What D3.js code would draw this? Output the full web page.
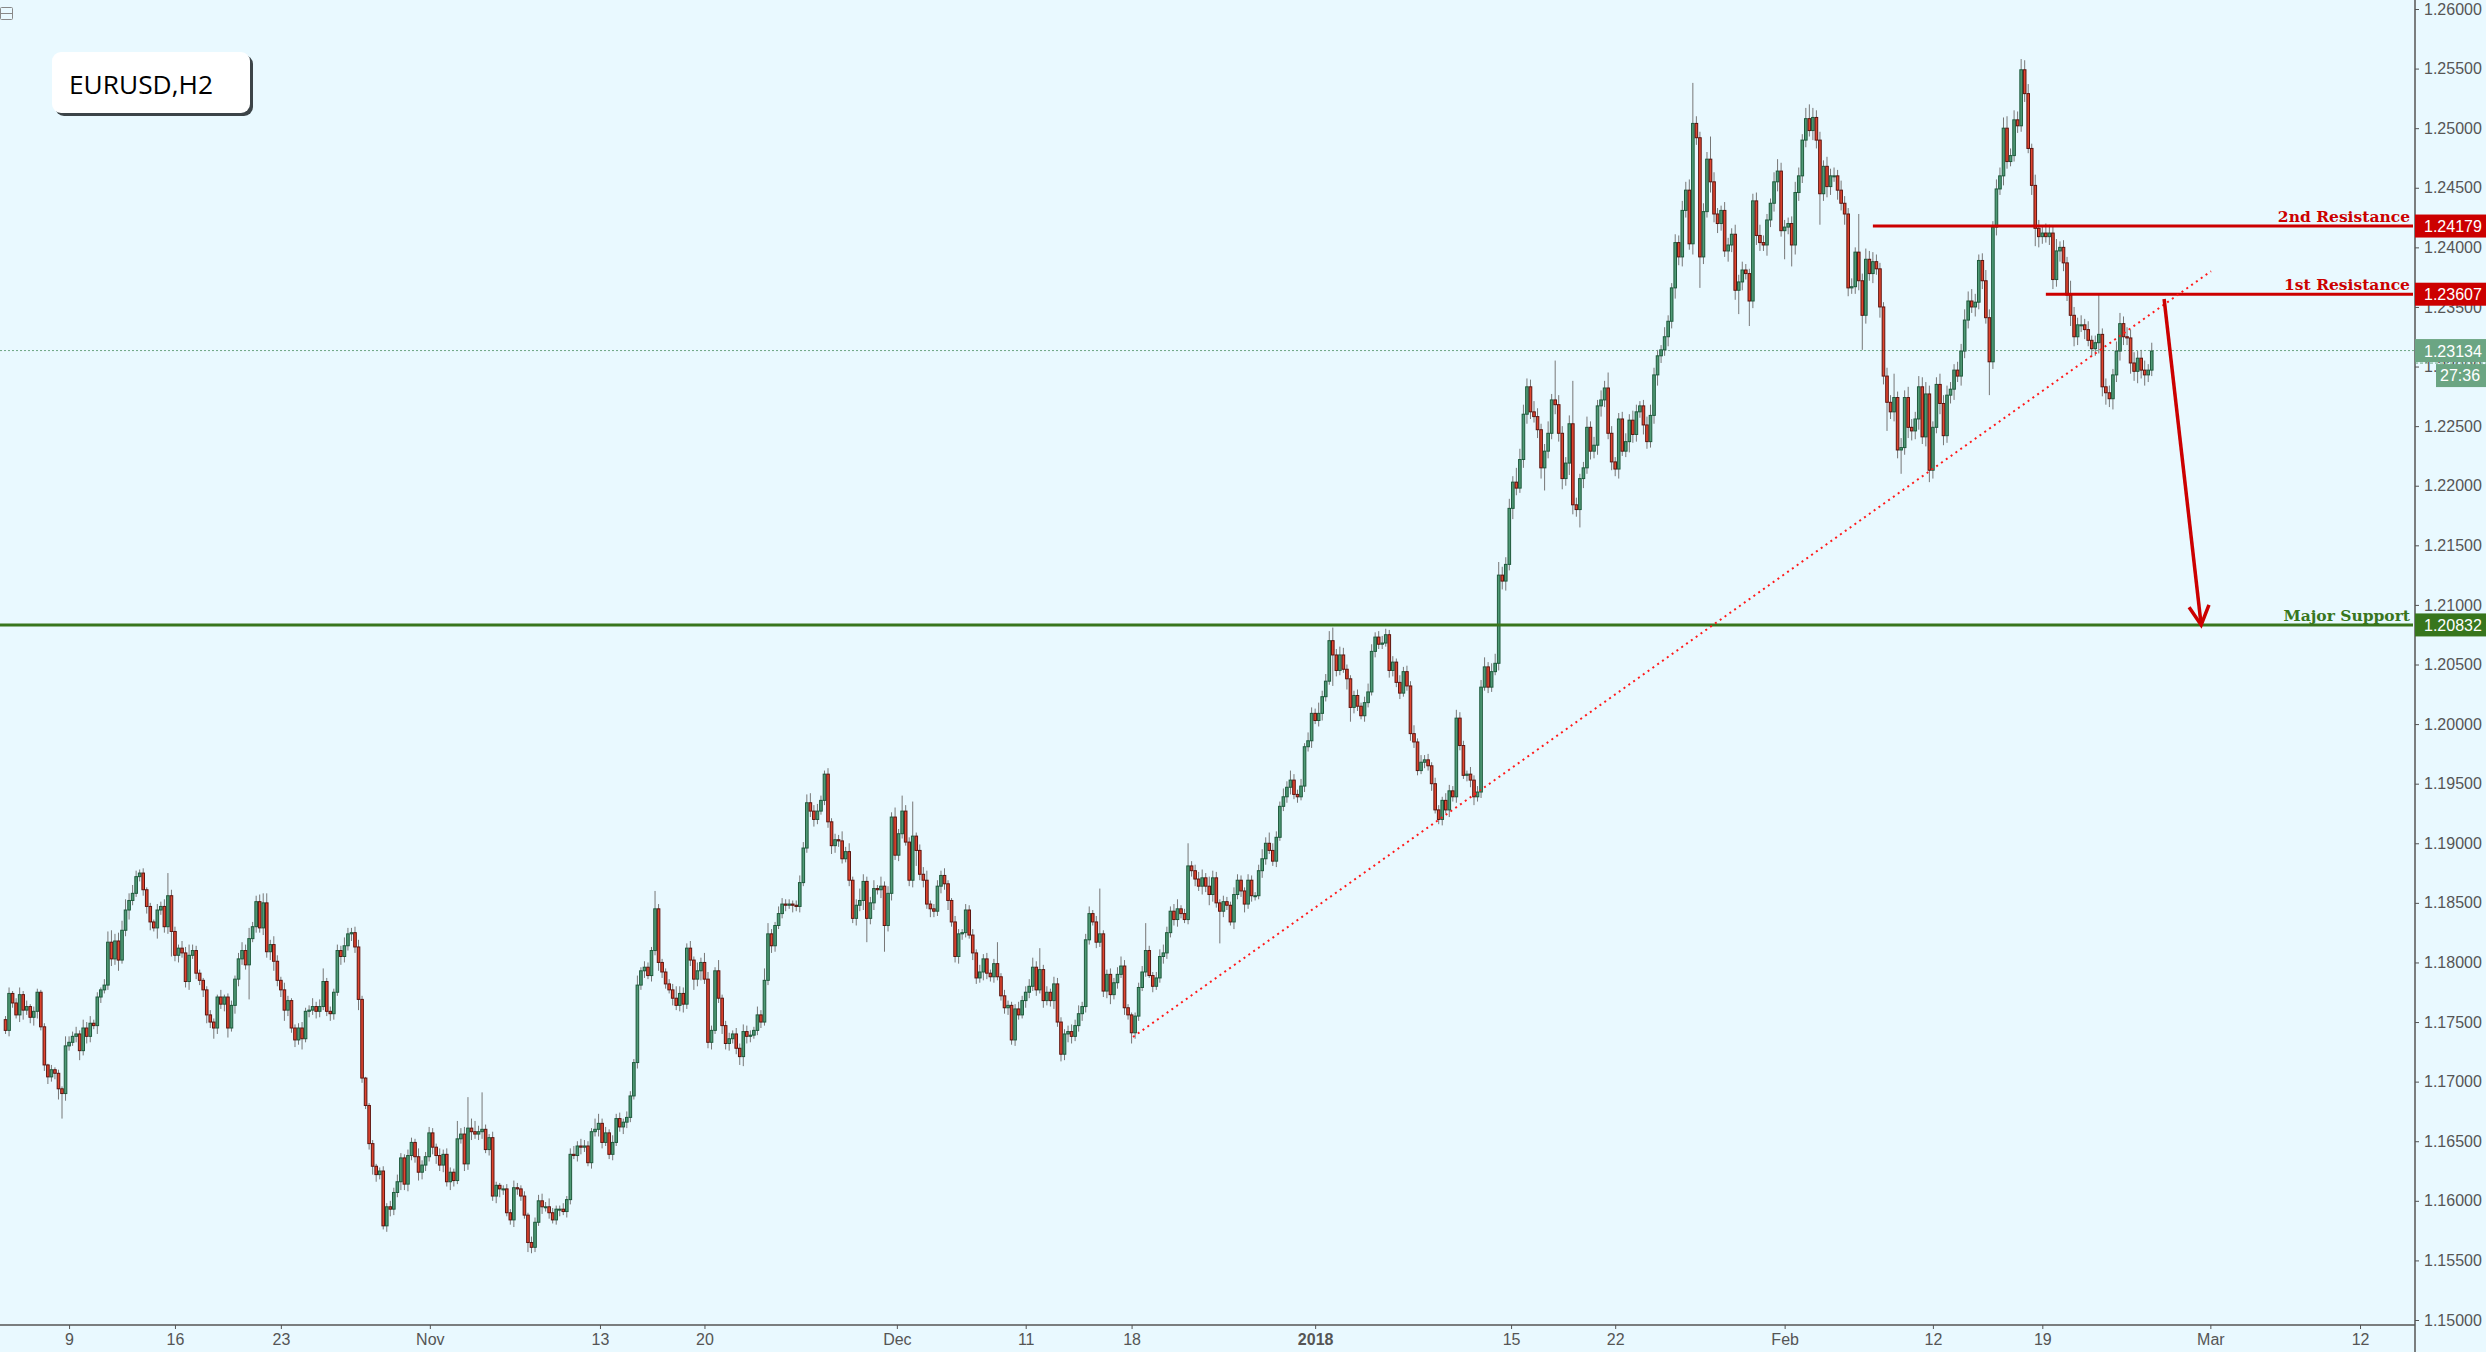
<!DOCTYPE html>
<html>
<head>
<meta charset="utf-8">
<title>EURUSD,H2</title>
<script src="https://cdnjs.cloudflare.com/ajax/libs/d3/7.8.5/d3.min.js"></script>
<style>
    html, body { margin: 0; padding: 0; background: #e9f9ff; overflow: hidden; }
    svg { display: block; }
    .axis text { font-family: "Liberation Sans", Arial, sans-serif; font-size: 16px; fill: #555; }
    .axis line, .axis path { stroke: #555; }
    .tag { font-family: "Liberation Sans", Arial, sans-serif; font-size: 16px; fill: #fff; }
    .level { font-family: "DejaVu Serif", serif; font-size: 15.5px; font-weight: bold; text-anchor: end; }
</style>
</head>
<body>
<script>
// closes of the 4 hour candles, in pips (1/10000)
var firstOpen = 11752
var closes = [
    11743,11774,11766,11756,11773,11760,11763,11754,11759,11775,11746,11714,11704,11710,11707,11694,11690,11730,11733,11738,11740,11726,11745,11738,11749,11747,11771,11777,11781,11817,
    11803,11818,11802,11827,11844,11852,11858,11872,11875,11861,11847,11834,11829,11844,11847,11830,11856,11826,11806,11812,11808,11784,11806,11810,11791,11785,11777,11756,11750,11745,
    11771,11765,11771,11745,11764,11786,11803,11810,11798,11820,11830,11851,11829,11850,11809,11815,11801,11785,11777,11760,11768,11745,11735,11745,11736,11759,11760,11763,11759,11763,
    11784,11759,11757,11775,11810,11805,11814,11824,11825,11813,11769,11703,11680,
    11648,11629,11622,11625,11579,11595,11593,11607,11616,11636,11614,11638,11649,11637,11624,11630,11637,11657,11645,11638,11630,11639,11616,11624,11617,11652,11656,11631,11661,11658,
    11656,11658,11660,11643,11653,11604,11613,11610,11610,11590,11584,11611,11610,11604,11588,11565,11561,11582,11600,11595,11595,11590,11584,11593,11593,11591,11601,11639,11638,11646,
    11645,11646,11632,11658,11660,11665,11649,11657,11639,11649,11669,11662,11666,11670,11688,11716,11781,11793,11796,11789,11810,11845,11800,11792,11782,11777,11770,11764,11774,11765,
    11812,11802,11786,11793,11800,11786,11733,11743,11793,11770,11747,11732,11736,
    11740,11728,11721,11742,11738,11739,11743,11756,11750,11785,11824,11814,11831,11841,11849,11848,11849,11848,11847,11867,11896,11934,11927,11920,11927,11936,11958,11918,11898,11903,
    11902,11887,11893,11869,11837,11848,11852,11868,11837,11850,11862,11861,11864,11831,11858,11922,11890,11908,11927,11901,11869,11906,11894,11874,11869,11849,11845,11843,11864,11873,
    11866,11852,11834,11805,11824,11825,11844,11823,11808,11787,11792,11803,11791,11788,11799,11788,11772,11762,11764,11735,11761,11756,11768,11775,11780,11796,11777,11794,11768,11775,
    11768,11782,11750,11723,11740,11742,11738,11747,11757,11763,11819,11841,11834,11817,11824,
    11776,11790,11773,11783,11790,11797,11762,11756,11741,11755,11779,11792,11810,11789,11780,11787,11805,11808,11825,11843,11836,11845,11841,11836,11881,11877,11870,11864,11871,11864,
    11857,11871,11850,11843,11851,11848,11834,11857,11869,11860,11849,11869,11856,11856,11877,11887,11900,11894,11885,11905,11931,11939,11947,11953,11941,11939,11948,11981,11986,12009,
    12003,12009,12023,12036,12070,12058,12045,12058,12046,12038,12014,12024,12015,12007,12018,12027,12061,12073,12067,
    12068,12075,12045,12052,12035,12026,12044,12032,11992,11985,11961,11968,11970,11965,11950,11928,11920,11936,11928,11944,11939,12005,11982,11957,11958,11953,11939,11943,12031,12048,
    12031,12044,12051,
    12125,12120,12134,12181,12203,12198,12222,12260,12283,12262,12258,12247,12215,12229,12244,12272,12268,12244,12206,12219,12252,12184,12180,12206,12215,12249,12229,12234,12267,12272,
    12282,12244,12220,12214,12256,12229,12237,12255,12243,12262,12267,12251,12237,12259,12293,12309,12314,12325,12338,12366,
    12404,12392,12431,12448,12403,12504,12492,12392,12430,12474,12455,12428,12420,12431,12397,12402,12411,12364,12371,12381,12378,12355,12439,12410,12404,12402,12423,12437,12455,12464,
    12414,12417,12420,12402,12446,12460,12490,12508,12498,12509,12490,12445,12468,12451,12460,12460,12448,12437,12428,12366,12367,12396,12372,12343,12390,12378,12388,12382,12350,12292,
    12270,12262,12274,12230,12232,12274,12249,12246,12256,12283,12241,12277,12213,12249,12285,12269,12242,12276,12281,12297,12292,12313,12339,12355,12350,12354,12389,12372,12341,12304,
    12417,12449,12460,12500,12472,12477,12507,12502,12549,12529,12483,12452,12416,12409,
    12412,12409,12412,12373,12397,12400,12387,12360,12343,12325,12335,12335,12331,12322,12315,12320,12327,12283,12278,12273,12293,12313,12336,12325,12324,12303,12296,12307,12297,12293,
    12297,12313
]
// wick length above the body, pips
var upWicks = [
    3,5,2,4,6,3,5,2,4,3,2,3,1,4,2,3,2,8,5,4,6,3,7,5,6,3,4,2,5,9,
    10,6,7,8,9,6,7,5,3,4,2,3,2,5,4,6,19,5,4,3,6,5,9,5,4,3,2,3,4,3,
    2,6,2,3,4,3,5,7,5,9,4,5,6,8,8,4,7,5,3,6,4,2,3,4,5,3,4,7,4,6,
    11,3,4,3,5,4,7,5,4,5,6,3,1,2,3,2,3,4,3,5,4,6,4,3,5,4,3,7,4,4,
    5,4,3,6,4,5,4,3,15,5,6,26,8,9,5,31,4,3,5,3,2,3,4,3,6,4,3,4,2,5,
    4,5,6,4,7,4,3,3,5,3,5,7,4,6,5,4,3,9,8,4,5,3,6,4,5,3,5,4,3,8,
    3,5,4,3,15,4,3,3,4,5,10,6,5,4,6,3,7,4,8,6,4,3,9,3,4,5,3,5,4,6,
    5,4,3,7,4,10,9,4,3,6,5,4,4,3,4,6,5,7,8,5,6,4,3,5,3,5,4,8,4,7,
    3,5,10,6,4,5,7,3,8,4,6,4,8,4,13,5,4,29,3,5,6,8,3,4,5,4,6,3,2,5,
    4,3,5,4,5,3,6,4,5,3,4,18,3,5,4,3,4,6,4,5,6,8,5,18,4,5,3,6,5,4,
    4,5,6,5,7,4,5,6,3,5,38,3,4,5,4,6,8,5,3,2,3,4,5,23,4,3,5,6,7,5,
    4,6,8,3,4,19,4,5,6,7,4,8,6,5,3,5,4,3,6,5,4,3,5,4,3,5,8,5,9,6,
    5,4,7,5,8,5,4,6,3,7,5,4,9,5,6,8,11,5,7,6,4,3,4,5,3,5,7,6,4,5,
    6,5,4,5,3,6,4,5,4,7,3,6,4,5,3,5,4,3,6,5,4,7,5,4,3,6,4,5,6,8,
    4,7,8,11,7,6,8,5,12,9,8,7,6,9,7,5,6,10,5,33,8,6,5,7,36,6,4,5,9,5,
    7,5,8,6,13,6,4,5,6,7,5,8,6,4,5,7,9,6,5,4,8,5,4,7,6,8,7,9,34,6,
    5,7,6,19,8,5,4,7,6,5,8,6,7,5,4,6,7,9,6,5,4,8,10,7,6,5,6,9,7,5,
    9,12,8,6,7,5,8,6,7,5,8,6,5,7,4,32,6,9,7,8,6,5,4,7,6,20,5,8,6,9,
    7,6,9,8,10,7,5,6,9,7,8,6,5,7,6,9,8,10,7,5,6,9,7,5,8,7,9,10,6,8,
    7,9,8,8,4,9,7,6,8,7,6,10,5,6,5,12,7,6,8,5,7,4,6,34,5,7,6,5,8,9,
    6,8,7,9,6,7,8,5,7
]
// wick length below the body, pips
var downWicks = [
    3,5,4,3,6,8,4,5,7,6,3,5,6,4,5,9,21,6,4,3,5,8,4,6,5,3,7,5,3,4,
    6,5,9,3,5,8,4,3,4,5,6,7,3,9,4,5,6,21,5,6,4,5,7,3,5,4,6,7,5,9,
    5,4,6,8,3,7,6,5,4,29,3,5,4,6,5,7,8,5,6,9,5,4,6,4,9,3,5,4,6,5,
    3,4,6,5,3,7,5,4,6,5,9,4,3,5,7,6,4,3,5,6,5,4,7,5,6,4,5,7,6,5,
    4,6,7,5,6,4,7,5,3,4,6,5,7,4,5,6,3,5,4,6,7,5,3,4,6,5,4,3,8,5,
    4,3,6,4,5,3,4,6,3,5,4,3,5,6,4,3,5,4,6,5,3,4,5,3,4,6,5,4,3,5,
    4,6,3,5,4,7,5,4,3,6,4,5,7,4,5,9,6,8,4,5,6,3,4,7,5,6,4,5,7,8,
    6,5,3,4,5,3,4,6,5,3,4,5,3,6,4,5,3,4,5,6,4,3,4,5,7,6,5,4,3,5,
    4,6,5,8,20,5,6,4,7,22,5,6,4,5,4,3,5,6,13,5,6,4,7,5,4,6,5,8,4,5,
    6,5,4,3,6,5,4,7,5,4,5,3,4,5,6,4,5,4,3,6,5,4,5,3,6,4,5,7,4,6,
    5,7,6,4,5,6,5,4,3,5,4,5,6,8,4,5,3,6,4,9,5,4,3,4,2,5,3,4,6,5,
    4,5,6,4,3,4,5,6,4,7,5,9,6,4,27,5,4,3,6,4,5,7,4,5,4,3,6,5,3,4,
    5,3,4,5,6,4,5,3,5,4,6,3,5,6,4,3,26,5,4,3,9,12,5,4,3,5,4,3,5,4,
    4,3,6,5,4,5,3,4,6,5,4,3,5,4,6,3,4,5,3,6,4,5,4,3,5,6,7,4,5,3,
    5,4,3,6,7,8,5,9,6,4,7,8,6,5,7,9,19,6,5,8,7,9,6,10,8,6,15,8,5,7,
    6,8,9,6,5,7,6,8,4,5,9,7,6,5,8,6,5,7,9,6,5,8,6,9,7,8,6,5,9,6,
    26,6,5,9,7,8,6,5,9,6,8,20,7,5,21,6,8,7,5,9,6,7,8,5,24,6,18,8,7,6,
    6,5,8,7,26,6,9,7,5,8,6,9,7,5,6,8,29,7,6,8,5,9,7,24,6,8,7,20,6,9,
    8,7,9,6,8,10,7,5,9,8,6,7,9,5,8,6,7,5,8,6,7,5,28,6,7,5,8,6,4,5,
    6,5,7,4,8,15,9,6,5,7,8,6,9,7,5,9,8,7,6,8,5,7,6,9,8,10,7,9,6,8,
    7,6,9,8,10,7,9,6,5
]

// axis labels
var priceTicks = [1.15, 1.155, 1.16, 1.165, 1.17, 1.175, 1.18, 1.185, 1.19, 1.195, 1.2, 1.205, 1.21, 1.215, 1.22, 1.225, 1.23, 1.235, 1.24, 1.245, 1.25, 1.255, 1.26]
var timeLabels = ["9", "16", "23", "Nov", "13", "20", "Dec", "11", "18", "2018", "15", "22", "Feb", "12", "19", "Mar", "12"]
var timeBars = [19, 49, 79, 121.2, 169.4, 199, 253.5, 290, 320, 372, 427.5, 457, 505, 547, 578, 625.6, 668]

// drawn levels, trend line and arrow, as [bar, price]
var levelNames = ["2nd Resistance", "1st Resistance", "Major Support"]
var levelPrices = [1.24179, 1.23607, 1.20832]
var levelStarts = [530, 579, -1]
var levelColors = ["#cc0000", "#cc0000", "#38761d"]
var lastPrice = 1.23134
var countdown = "27:36"
var trendLine = [[320.4, 1.17375], [625.8, 1.23800]]
var arrowLine = [[612.5, 1.23567], [623, 1.20832]]

function main() {
    var width = 2486,
        height = 1352;

    var svg = d3.select("body")
        .append("svg")
        .attr("width", width)
        .attr("height", height);

    svg.append("rect")
        .attr("width", width)
        .attr("height", height)
        .attr("fill", "#e9f9ff");

    var x = d3.scaleLinear().domain([0, 684]).range([2, 2416.5]);
    var y = d3.scaleLinear().domain([1.26, 1.15]).range([9, 1320]);

    drawAxes(svg, x, y, height);
    drawLastLine(svg, y);
    drawCandles(svg, x, y);
    drawLevels(svg, x, y);
    drawTrend(svg, x, y);
    drawArrow(svg, x, y);
    drawTags(svg, y);
    drawTitle(svg);
};

function drawAxes(svg, x, y, height) {
    var yAxis = d3.axisRight(y)
        .tickValues(priceTicks)
        .tickFormat(d3.format(".5f"))
        .tickSize(4)
        .tickSizeOuter(0)
        .tickPadding(5);

    var yGroup = svg.append("g")
        .attr("class", "axis")
        .attr("transform", "translate(2415,0)")
        .call(yAxis);
    yGroup.select(".domain").remove();

    var xAxis = d3.axisBottom(x)
        .tickValues(timeBars)
        .tickFormat(function (d, i) { return timeLabels[i]; })
        .tickSize(4)
        .tickSizeOuter(0)
        .tickPadding(5);

    var xGroup = svg.append("g")
        .attr("class", "axis")
        .attr("transform", "translate(0,1325)")
        .call(xAxis);
    xGroup.select(".domain").remove();
    xGroup.selectAll("text")
        .style("font-weight", function (d, i) { return timeLabels[i] == "2018" ? "bold" : "normal"; });

    // frame lines
    svg.append("line").attr("x1", 2415).attr("x2", 2415).attr("y1", 0).attr("y2", height)
        .attr("stroke", "#555").attr("stroke-width", 1.5);
    svg.append("line").attr("x1", 0).attr("x2", 2415).attr("y1", 1325).attr("y2", 1325)
        .attr("stroke", "#555").attr("stroke-width", 1.5);

    // collapse button top left
    svg.append("rect").attr("x", 0.5).attr("y", 7.5).attr("width", 12).attr("height", 12).attr("rx", 1)
        .attr("fill", "none").attr("stroke", "#888");
    svg.append("line").attr("x1", 1).attr("x2", 12).attr("y1", 13.5).attr("y2", 13.5).attr("stroke", "#888");
};

function drawLastLine(svg, y) {
    svg.append("line")
        .attr("x1", 0).attr("x2", 2415)
        .attr("y1", y(lastPrice)).attr("y2", y(lastPrice))
        .attr("stroke", "#6ba583")
        .attr("stroke-dasharray", "2 2");
};

function drawCandles(svg, x, y) {
    var bars = closes.map(function (c, i) {
        var open = i == 0 ? firstOpen : closes[i - 1];
        return {
            bar: i + 1,
            open: open / 10000,
            close: c / 10000,
            high: (Math.max(open, c) + (upWicks[i] || 0)) / 10000,
            low: (Math.min(open, c) - (downWicks[i] || 0)) / 10000
        };
    });

    var bodyWidth = 2.6;

    svg.append("g").selectAll("line")
        .data(bars)
        .join("line")
        .attr("x1", function (d) { return x(d.bar); })
        .attr("x2", function (d) { return x(d.bar); })
        .attr("y1", function (d) { return y(d.high); })
        .attr("y2", function (d) { return y(d.low); })
        .attr("stroke", "#777")
        .attr("stroke-width", 1);

    svg.append("g").selectAll("rect")
        .data(bars)
        .join("rect")
        .attr("x", function (d) { return x(d.bar) - bodyWidth / 2; })
        .attr("width", bodyWidth)
        .attr("y", function (d) { return y(Math.max(d.open, d.close)); })
        .attr("height", function (d) { return Math.max(1, Math.abs(y(d.open) - y(d.close))); })
        .attr("fill", function (d) { return d.close >= d.open ? "#4f9a76" : "#e0452f"; })
        .attr("stroke", function (d) { return d.close >= d.open ? "#1e5a3c" : "#5d1510"; })
        .attr("stroke-width", 1);
};

function drawLevels(svg, x, y) {
    levelPrices.forEach(function (price, i) {
        svg.append("line")
            .attr("x1", x(levelStarts[i])).attr("x2", 2413)
            .attr("y1", y(price)).attr("y2", y(price))
            .attr("stroke", levelColors[i])
            .attr("stroke-width", 3);
        svg.append("text")
            .attr("class", "level")
            .attr("x", 2410)
            .attr("y", y(price) - 4)
            .attr("fill", levelColors[i])
            .text(levelNames[i]);
    });
};

function drawTrend(svg, x, y) {
    var line = d3.line()
        .x(function (d) { return x(d[0]); })
        .y(function (d) { return y(d[1]); });

    svg.append("path")
        .attr("d", line(trendLine))
        .attr("fill", "none")
        .attr("stroke", "#ff1a1a")
        .attr("stroke-width", 2)
        .attr("stroke-dasharray", "2 3.9");
};

function drawArrow(svg, x, y) {
    var line = d3.line()
        .x(function (d) { return x(d[0]); })
        .y(function (d) { return y(d[1]); });

    svg.append("path")
        .attr("d", line(arrowLine))
        .attr("fill", "none")
        .attr("stroke", "#cc0000")
        .attr("stroke-width", 3.5);

    // arrow head, turned along the shaft
    var x0 = x(arrowLine[0][0]), y0 = y(arrowLine[0][1]);
    var x1 = x(arrowLine[1][0]), y1 = y(arrowLine[1][1]);
    var angle = Math.atan2(y1 - y0, x1 - x0) * 180 / Math.PI;
    svg.append("path")
        .attr("d", "M-19,-10L0,0L-19,10")
        .attr("transform", "translate(" + x1 + "," + y1 + ") rotate(" + angle + ")")
        .attr("fill", "none")
        .attr("stroke", "#cc0000")
        .attr("stroke-width", 3.5);
};

function priceTag(svg, y, color, price) {
    svg.append("rect")
        .attr("x", 2415).attr("width", 71)
        .attr("y", y(price) - 11.5).attr("height", 23)
        .attr("fill", color);
    svg.append("text")
        .attr("class", "tag")
        .attr("x", 2424)
        .attr("y", y(price) + 6)
        .text(d3.format(".5f")(price));
};

function drawTags(svg, y) {
    levelPrices.forEach(function (price, i) {
        priceTag(svg, y, levelColors[i], price);
    });
    priceTag(svg, y, "#6ba583", lastPrice);

    // countdown under the last price
    var top = y(lastPrice) + 13.5;
    svg.append("rect")
        .attr("x", 2436).attr("width", 50)
        .attr("y", top).attr("height", 23)
        .attr("fill", "#6ba583");
    svg.append("line")
        .attr("x1", 2415).attr("x2", 2486)
        .attr("y1", top - 1).attr("y2", top - 1)
        .attr("stroke", "#6ba583")
        .attr("stroke-dasharray", "3 2");
    svg.append("text")
        .attr("class", "tag")
        .attr("x", 2440)
        .attr("y", top + 17)
        .text(countdown);
};

function drawTitle(svg) {
    svg.append("rect")
        .attr("x", 55).attr("y", 55)
        .attr("width", 198).attr("height", 61)
        .attr("rx", 9)
        .attr("fill", "#3c4448");
    svg.append("rect")
        .attr("x", 52).attr("y", 52)
        .attr("width", 198).attr("height", 61)
        .attr("rx", 9)
        .attr("fill", "#fff");
    svg.append("text")
        .attr("x", 69)
        .attr("y", 94)
        .attr("font-family", "'Open Sans', sans-serif")
        .attr("font-size", 26.3)
        .attr("fill", "#000")
        .text("EURUSD,H2");
};

window.onload = main()
</script>
</body>
</html>
